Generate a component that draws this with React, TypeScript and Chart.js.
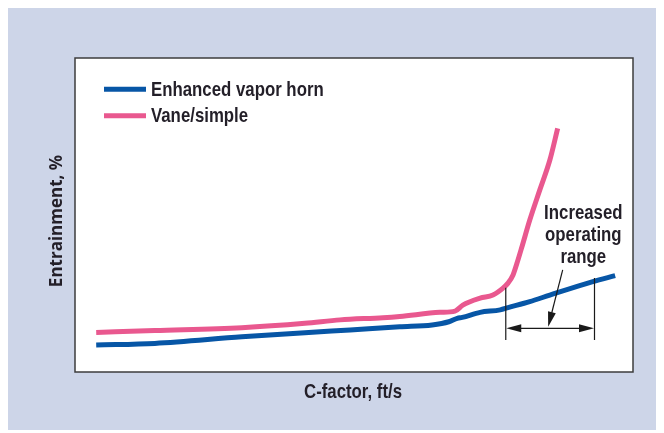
import React, { useEffect, useRef } from "react";
import { Chart, registerables } from "chart.js";

Chart.register(...registerables);

// C-factor (relative units, 0-100 across the frame)
const hornC = [3.8, 14.3, 29.9, 41.2, 49.3, 58.2, 64.0, 67.0, 68.5, 69.4, 72.6, 76.2, 77.6, 81.5, 85.1, 92.8, 96.8];
// Entrainment (relative units, 0-100 up the frame)
const hornE = [8.6, 9.1, 11.2, 12.5, 13.4, 14.4, 15.0, 16.0, 17.1, 17.4, 19.0, 19.8, 20.5, 22.4, 24.5, 28.8, 30.7];

const vaneC = [3.8, 14.3, 29.9, 41.2, 47.5, 55.2, 58.2, 65.4, 68.1, 69.5, 72.6, 74.9, 76.7, 77.6, 78.5, 79.2, 80.1, 81.5, 83.3, 85.1, 86.5];
const vaneE = [12.6, 13.2, 14.1, 15.5, 16.6, 17.3, 17.7, 19.0, 19.4, 21.3, 23.5, 24.5, 26.7, 28.3, 30.9, 34.6, 39.9, 48.4, 58.0, 67.5, 77.6];

const seriesNames = ["Enhanced vapor horn", "Vane/simple"];
const xTitle = "C-factor, ft/s";
const yTitle = "Entrainment, %";
const noteLines = ["Increased", "operating", "range"];

// annotation (in data units)
const rangeStart = 77.2;
const rangeEnd = 93.1;
const rangeStartTop = 26.8;
const rangeEndTop = 29.9;
const rangeBottom = 10.2;
const rangeArrowY = 13.9;
const pointerFrom = [87.4, 32.5];
const pointerTo = [84.8, 14.4];
const noteX = 91.1;
const noteBaselines = [48.6, 41.7, 34.6];

const BLUE = "#0756a6";
const PINK = "#e9588f";
const BG = "#cdd5e8";
const TEXT = "#231f28";
const CONDENSED = "'Liberation Sans', Arial, sans-serif";
const SQUEEZE = 0.8;

function arrowHead(ctx: CanvasRenderingContext2D, tx: number, ty: number, fx: number, fy: number, len: number, half: number) {
  const dx = tx - fx;
  const dy = ty - fy;
  const d = Math.hypot(dx, dy) || 1;
  const ux = dx / d;
  const uy = dy / d;
  const bx = tx - ux * len;
  const by = ty - uy * len;
  ctx.beginPath();
  ctx.moveTo(tx, ty);
  ctx.lineTo(bx - uy * half, by + ux * half);
  ctx.lineTo(bx + uy * half, by - ux * half);
  ctx.closePath();
  ctx.fill();
}

function condensedText(ctx: CanvasRenderingContext2D, text: string, x: number, y: number, align: CanvasTextAlign) {
  ctx.save();
  ctx.translate(x, y);
  ctx.scale(SQUEEZE, 1);
  ctx.font = `bold 21px ${CONDENSED}`;
  ctx.textAlign = align;
  ctx.textBaseline = "alphabetic";
  ctx.fillStyle = TEXT;
  ctx.fillText(text, 0, 0);
  ctx.restore();
}

const decorPlugin = {
  id: "decor",
  beforeDraw(chart: any) {
    const { ctx, chartArea: a, width, height } = chart;
    ctx.save();
    ctx.fillStyle = BG;
    ctx.fillRect(0, 0, width, height);
    ctx.fillStyle = "#ffffff";
    ctx.fillRect(a.left, a.top, a.right - a.left, a.bottom - a.top);
    ctx.restore();
  },
  afterDatasetsDraw(chart: any) {
    const { ctx, chartArea: a } = chart;
    const xs = chart.scales.x;
    const ys = chart.scales.y;
    ctx.save();
    // frame
    ctx.strokeStyle = "#3c3c3c";
    ctx.lineWidth = 1.5;
    ctx.strokeRect(a.left, a.top, a.right - a.left, a.bottom - a.top);

    // legend
    const legendColors = [BLUE, PINK];
    const legendYs = [a.top + 31.3, a.top + 57.7];
    const baseYs = [a.top + 38, a.top + 64];
    for (let i = 0; i < 2; i++) {
      ctx.strokeStyle = legendColors[i];
      ctx.lineWidth = 5;
      ctx.lineCap = "butt";
      ctx.beginPath();
      ctx.moveTo(a.left + 29, legendYs[i]);
      ctx.lineTo(a.left + 71, legendYs[i]);
      ctx.stroke();
      condensedText(ctx, seriesNames[i], a.left + 76, baseYs[i], "left");
    }

    // x title
    condensedText(ctx, xTitle, (a.left + a.right) / 2 - 1, a.bottom + 26, "center");

    // y title
    ctx.save();
    ctx.translate(a.left - 13, (a.top + a.bottom) / 2 + 6);
    ctx.rotate(-Math.PI / 2);
    ctx.font = `bold 17px 'Open Sans', 'Noto Sans', sans-serif`;
    ctx.textAlign = "center";
    ctx.textBaseline = "alphabetic";
    ctx.fillStyle = TEXT;
    ctx.fillText(yTitle, 0, 0);
    ctx.restore();

    // operating range annotation
    const x1 = xs.getPixelForValue(rangeStart);
    const x2 = xs.getPixelForValue(rangeEnd);
    const yb = ys.getPixelForValue(rangeBottom);
    const ya = ys.getPixelForValue(rangeArrowY);
    ctx.strokeStyle = "#1a1a1a";
    ctx.fillStyle = "#1a1a1a";
    ctx.lineWidth = 1.2;
    ctx.beginPath();
    ctx.moveTo(x1, ys.getPixelForValue(rangeStartTop));
    ctx.lineTo(x1, yb);
    ctx.moveTo(x2, ys.getPixelForValue(rangeEndTop));
    ctx.lineTo(x2, yb);
    ctx.moveTo(x1 + 8, ya);
    ctx.lineTo(x2 - 8, ya);
    ctx.stroke();
    arrowHead(ctx, x1 + 0.5, ya, x2, ya, 15, 4);
    arrowHead(ctx, x2 - 0.5, ya, x1, ya, 15, 4);

    const px1 = xs.getPixelForValue(pointerFrom[0]);
    const py1 = ys.getPixelForValue(pointerFrom[1]);
    const px2 = xs.getPixelForValue(pointerTo[0]);
    const py2 = ys.getPixelForValue(pointerTo[1]);
    ctx.beginPath();
    ctx.moveTo(px1, py1);
    ctx.lineTo(px1 + (px2 - px1) * 0.85, py1 + (py2 - py1) * 0.85);
    ctx.stroke();
    arrowHead(ctx, px2, py2, px1, py1, 15, 4);

    for (let i = 0; i < noteLines.length; i++) {
      condensedText(ctx, noteLines[i], xs.getPixelForValue(noteX), ys.getPixelForValue(noteBaselines[i]), "center");
    }
    ctx.restore();
  },
};

export default function App() {
  const ref = useRef<HTMLCanvasElement | null>(null);
  useEffect(() => {
    if (!ref.current) return;
    const chart = new Chart(ref.current, {
      type: "line",
      data: {
        datasets: [
          {
            label: seriesNames[0],
            data: hornC.map((x, i) => ({ x, y: hornE[i] })),
            borderColor: BLUE,
            borderWidth: 5,
            pointRadius: 0,
            tension: 0.25,
            cubicInterpolationMode: "monotone",
            borderJoinStyle: "round",
          },
          {
            label: seriesNames[1],
            data: vaneC.map((x, i) => ({ x, y: vaneE[i] })),
            borderColor: PINK,
            borderWidth: 5,
            pointRadius: 0,
            tension: 0.25,
            cubicInterpolationMode: "monotone",
            borderJoinStyle: "round",
          },
        ],
      },
      options: {
        responsive: false,
        animation: false,
        devicePixelRatio: 1,
        layout: { padding: { left: 67, top: 50, right: 31, bottom: 58 } },
        plugins: { legend: { display: false }, tooltip: { enabled: false } },
        scales: {
          x: { type: "linear", min: 0, max: 100, display: false },
          y: { type: "linear", min: 0, max: 100, display: false },
        },
      },
      plugins: [decorPlugin],
    } as any);
    return () => chart.destroy();
  }, []);
  return <canvas ref={ref} width={656} height={422} style={{ display: "block" }} />;
}
